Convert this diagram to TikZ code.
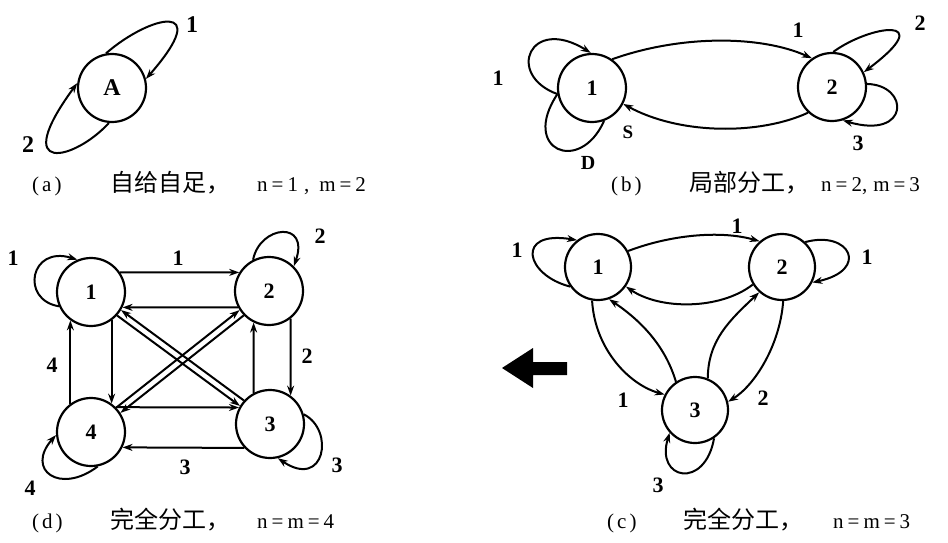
\documentclass[tikz,border=0pt]{standalone}
\usepackage{fontspec}
\setmainfont{Liberation Serif}
\newfontfamily\cjk{Noto Sans CJK SC}
\usetikzlibrary{arrows.meta,calc}
\newcommand\myeq{\hspace{4pt}=\hspace{4pt}}
\begin{document}
\begin{tikzpicture}[x=1pt,y=-1pt,
  nd/.style={circle,draw,line width=2.2pt,minimum size=68pt,inner sep=0pt,font=\fontsize{22}{22}\selectfont\bfseries},
  arr/.style={line width=2pt,-{Stealth[length=10pt,width=7pt]}},
  plain/.style={line width=2pt},
  lbl/.style={font=\fontsize{22}{22}\selectfont\bfseries,inner sep=0pt},
  captext/.style={font=\fontsize{21}{21}\selectfont,anchor=west,inner sep=0pt}]
\useasboundingbox (0,0) rectangle (948,543);

% ---------- (a) ----------
\node[nd,font=\fontsize{24}{24}\selectfont\bfseries] (A) at (112,88) {A};
\draw[arr] (A.100) .. controls (150,15) and (215,0) .. (A.15);
\draw[arr] (A.265) .. controls (74,161) and (9,176) .. (A.172);
\node[lbl,font=\fontsize{24}{24}\selectfont\bfseries] (la1) at (192,25) {1};
\node[lbl,font=\fontsize{24}{24}\selectfont\bfseries] (la2) at (28,145) {2};
\node[captext] (capa) at (32,184) {\makebox[78pt][l]{(\hspace{3pt}a\hspace{3pt})}\makebox[147pt][l]{\cjk\fontsize{24}{24}\selectfont 自给自足，}n\myeq 1\hspace{6pt},\hspace{10pt}m\myeq 2};

% ---------- (b) ----------
\node[nd] (b1) at (592,88) {1};
\node[nd] (b2) at (832,87) {2};
\draw[arr] (b1.55) .. controls (680,35) and (760,35) .. (b2.125);
\draw[arr] (b2.227) .. controls (760,135) and (680,135) .. (b1.333);
\draw[arr] (b1.190) .. controls (505,75) and (530,15) .. (b1.92);
\draw[plain] (b1.290) .. controls (580,175) and (520,150) .. (b1.190);
\draw[arr] (b2.88) .. controls (870,25) and (940,15) .. (b2.25);
\draw[arr] (b2.5) .. controls (910,85) and (910,140) .. (b2.288);
\node[lbl] (lb1) at (798,30) {1};
\node[lbl,font=\fontsize{19}{19}\selectfont\bfseries] (lbS) at (628,132) {S};
\node[lbl] (lb1b) at (498,78) {1};
\node[lbl,font=\fontsize{20}{20}\selectfont\bfseries] (lbD) at (588,163) {D};
\node[lbl] (lb2) at (920,23) {2};
\node[lbl] (lb3) at (858,143) {3};
\node[captext] (capb) at (611,184) {\makebox[78pt][l]{(\hspace{3pt}b\hspace{3pt})}\makebox[132pt][l]{\cjk\fontsize{24}{24}\selectfont 局部分工，}n\myeq 2,\hspace{6pt}m\myeq 3};

% ---------- (d) ----------
\node[nd] (d1) at (91,292) {1};
\node[nd] (d2) at (269,291) {2};
\node[nd] (d3) at (270,424) {3};
\node[nd] (d4) at (91,432) {4};
\draw[arr] (d1.34) -- (d2.148);
\draw[arr] (d2.208) -- (d1.-26);
\draw[arr] (d1.-54) -- (d4.54);
\draw[arr] (d4.126) -- (d1.234);
\draw[arr] (d2.-52) -- (d3.54);
\draw[arr] (d3.118) -- (d2.244);
\draw[arr] (d4.45) -- (d3.152);
\draw[arr] (d3.223) -- (d4.-26);
\draw[arr] (d3.138) -- (d1.-31);
\draw[arr] (d1.-42) -- (d3.149);
\draw[arr] (d4.44) -- (d2.213);
\draw[arr] (d2.224) -- (d4.33);
\draw[arr] (d1.204) .. controls (20,300) and (30,245) .. (d1.113);
\draw[arr] (d2.117) .. controls (260,225) and (310,220) .. (d2.45);
\draw[arr] (d3.16) .. controls (335,430) and (325,490) .. (d3.283);
\draw[arr] (d4.281) .. controls (60,495) and (25,470) .. (d4.185);
\node[lbl] (ld1) at (13,258) {1};
\node[lbl] (ld12) at (178,258) {1};
\node[lbl] (ld2) at (320,236) {2};
\node[lbl] (ld23) at (307,356) {2};
\node[lbl] (ld41) at (52,365) {4};
\node[lbl] (ld3) at (337,465) {3};
\node[lbl] (ld34) at (185,467) {3};
\node[lbl] (ld4) at (30,488) {4};
\node[captext] (capd) at (32,521) {\makebox[78pt][l]{(\hspace{3pt}d\hspace{3pt})}\makebox[147pt][l]{\cjk\fontsize{24}{24}\selectfont 完全分工，}n\myeq m\myeq 4};

% ---------- (c) ----------
\node[nd,minimum size=66pt] (c1) at (598,267) {1};
\node[nd,minimum size=66pt] (c2) at (782,267) {2};
\node[nd,minimum size=66pt] (c3) at (695,410) {3};
\draw[arr] (c1.28) .. controls (670,235) and (720,230) .. (c2.131);
\draw[arr] (c2.211) .. controls (720,310) and (660,310) .. (c1.-35);
\draw[arr] (c1.260) .. controls (595,350) and (630,385) .. (c3.153);
\draw[arr] (c3.124) .. controls (665,345) and (640,320) .. (c1.-71);
\draw[arr] (c2.-88) .. controls (780,345) and (755,385) .. (c3.14);
\draw[arr] (c3.68) .. controls (708,340) and (730,320) .. (c2.228);
\draw[arr] (c1.215) .. controls (525,275) and (515,230) .. (c1.128);
\draw[arr] (c2.47) .. controls (850,230) and (870,270) .. (c2.-27);
\draw[arr] (c3.-56) .. controls (705,490) and (655,480) .. (c3.222);
\node[lbl] (lc12) at (737,226) {1};
\node[lbl] (lc1) at (517,250) {1};
\node[lbl] (lc2) at (867,257) {1};
\node[lbl] (lc13) at (623,400) {1};
\node[lbl] (lc23) at (763,398) {2};
\node[lbl] (lc3) at (658,485) {3};
\node[captext] (capc) at (607,521) {\makebox[76pt][l]{(\hspace{3pt}c\hspace{3pt})}\makebox[150pt][l]{\cjk\fontsize{24}{24}\selectfont 完全分工，}n\myeq m\myeq 3};

% big arrow
\fill (502,368) -- (533,348) -- (533,362) -- (567,362) -- (567,375) -- (533,375) -- (533,388) -- cycle;
\end{tikzpicture}
\end{document}
